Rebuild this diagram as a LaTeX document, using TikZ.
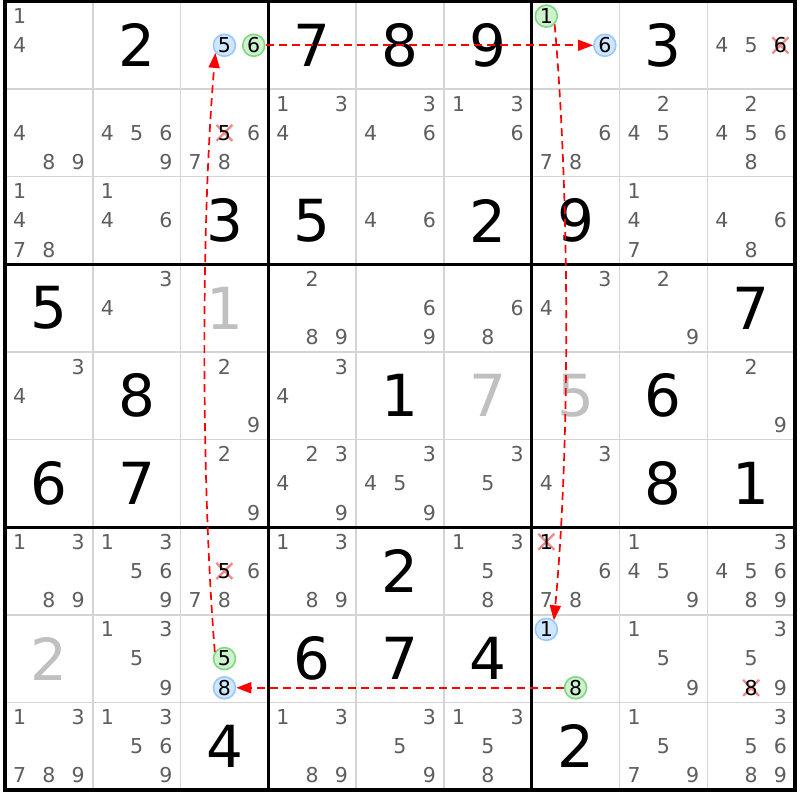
\documentclass[tikz,border=0pt]{standalone}
\usepackage{fontspec}
\setmainfont{DejaVu Sans}
\usetikzlibrary{arrows.meta}
\definecolor{candgray}{HTML}{5E5E5E}
\definecolor{ghostgray}{HTML}{C0C0C0}
\definecolor{thingray}{HTML}{D4D4D4}
\definecolor{bluefill}{HTML}{CFE6FF}
\definecolor{bluedraw}{HTML}{99C8FF}
\definecolor{greenfill}{HTML}{CDF2CD}
\definecolor{greendraw}{HTML}{80D880}
\definecolor{xred}{HTML}{F08A8A}
\def\gx{5}
\def\gy{1.5}
\def\cw{87.78}
\def\ch{87.61}
\newcommand\setpos[3]{%
  \pgfmathsetmacro\px{\gx+(#2-1)*\cw+(2*mod(#3-1,3)+1)*\cw/6}%
  \pgfmathsetmacro\py{\gy+(#1-1)*\ch+(2*int((#3-1)/3)+1)*\ch/6}}
\newcommand\setcen[2]{%
  \pgfmathsetmacro\px{\gx+(#2-0.5)*\cw}%
  \pgfmathsetmacro\py{\gy+(#1-0.5)*\ch}}
\newcommand\cands[3]{\foreach \d in {#3}{\setpos{#1}{#2}{\d}\node[cand] (c#1#2\d) at (\px,\py) {\d};}}
\newcommand\crossed[3]{\setpos{#1}{#2}{#3}%
  \coordinate (p#1#2#3) at (\px,\py);
  \draw[xmark] (p#1#2#3) +(-8,-8) -- +(8,8) (p#1#2#3) +(-8,8) -- +(8,-8);
  \node[cand,text=black] (x#1#2#3) at (p#1#2#3) {#3};}
\newcommand\hl[5]{\setpos{#2}{#3}{#4}\node[#1] (#5) at (\px,\py) {#4};}
\tikzset{
  cand/.style={inner sep=0pt, font=\fontsize{20.5}{20.5}\selectfont, text=candgray},
  big/.style={inner sep=0pt, font=\fontsize{58}{58}\selectfont, text=black},
  ghost/.style={big, text=ghostgray},
  hlb/.style={circle, inner sep=0pt, minimum size=22pt, fill=bluefill, draw=bluedraw, line width=1.6pt, font=\fontsize{20.5}{20.5}\selectfont, text=black},
  hlg/.style={hlb, fill=greenfill, draw=greendraw},
  xmark/.style={draw=xred, line width=2.3pt},
  thin/.style={draw=thingray, line width=1.5pt},
  thick/.style={draw=black, line width=3pt},
  chain/.style={draw=red, line width=1.7pt, dash pattern=on 8pt off 5pt, -{Triangle[length=15pt,width=11pt]}, fill=none}
}
\begin{document}
\begin{tikzpicture}[x=1pt,y=-1pt]
\useasboundingbox (0,0) rectangle (800,800);
\fill[white] (0,0) rectangle (800,800);
% thin grid lines
\foreach \i in {1,2,4,5,7,8}{
  \draw[thin] ({\gx+\i*\cw},\gy) -- ({\gx+\i*\cw},{\gy+9*\ch});
  \draw[thin] (\gx,{\gy+\i*\ch}) -- ({\gx+9*\cw},{\gy+\i*\ch});
}
% thick box lines
\foreach \i in {3,6}{
  \draw[thick] ({\gx+\i*\cw},\gy) -- ({\gx+\i*\cw},{\gy+9*\ch});
  \draw[thick] (\gx,{\gy+\i*\ch}) -- ({\gx+9*\cw},{\gy+\i*\ch});
}
\draw[thick, line width=3.5pt] (\gx,\gy) rectangle ({\gx+9*\cw},{\gy+9*\ch});
% given digits
\foreach \r/\c/\v in {1/2/2,1/4/7,1/5/8,1/6/9,1/8/3,
  3/3/3,3/4/5,3/6/2,3/7/9,
  4/1/5,4/9/7,
  5/2/8,5/5/1,5/8/6,
  6/1/6,6/2/7,6/8/8,6/9/1,
  7/5/2,
  8/4/6,8/5/7,8/6/4,
  9/3/4,9/7/2}{
  \setcen{\r}{\c}\node[big] (g\r\c) at (\px,\py) {\v};
}
\foreach \r/\c/\v in {4/3/1,5/6/7,5/7/5,8/1/2}{
  \setcen{\r}{\c}\node[ghost] (h\r\c) at (\px,\py) {\v};
}
% candidates
\cands{1}{1}{1,4}
\cands{1}{9}{4,5}
\cands{2}{1}{4,8,9}
\cands{2}{2}{4,5,6,9}
\cands{2}{3}{6,7,8}
\cands{2}{4}{1,3,4}
\cands{2}{5}{3,4,6}
\cands{2}{6}{1,3,6}
\cands{2}{7}{6,7,8}
\cands{2}{8}{2,4,5}
\cands{2}{9}{2,4,5,6,8}
\cands{3}{1}{1,4,7,8}
\cands{3}{2}{1,4,6}
\cands{3}{5}{4,6}
\cands{3}{8}{1,4,7}
\cands{3}{9}{4,6,8}
\cands{4}{2}{3,4}
\cands{4}{4}{2,8,9}
\cands{4}{5}{6,9}
\cands{4}{6}{6,8}
\cands{4}{7}{3,4}
\cands{4}{8}{2,9}
\cands{5}{1}{3,4}
\cands{5}{3}{2,9}
\cands{5}{4}{3,4}
\cands{5}{9}{2,9}
\cands{6}{3}{2,9}
\cands{6}{4}{2,3,4,9}
\cands{6}{5}{3,4,5,9}
\cands{6}{6}{3,5}
\cands{6}{7}{3,4}
\cands{7}{1}{1,3,8,9}
\cands{7}{2}{1,3,5,6,9}
\cands{7}{3}{6,7,8}
\cands{7}{4}{1,3,8,9}
\cands{7}{6}{1,3,5,8}
\cands{7}{7}{6,7,8}
\cands{7}{8}{1,4,5,9}
\cands{7}{9}{3,4,5,6,8,9}
\cands{8}{2}{1,3,5,9}
\cands{8}{8}{1,5,9}
\cands{8}{9}{3,5,9}
\cands{9}{1}{1,3,7,8,9}
\cands{9}{2}{1,3,5,6,9}
\cands{9}{4}{1,3,8,9}
\cands{9}{5}{3,5,9}
\cands{9}{6}{1,3,5,8}
\cands{9}{8}{1,5,7,9}
\cands{9}{9}{3,5,6,8,9}
% eliminated candidates
\crossed{1}{9}{6}
\crossed{2}{3}{5}
\crossed{7}{3}{5}
\crossed{7}{7}{1}
\crossed{8}{9}{8}
% highlighted candidates
\hl{hlb}{1}{3}{5}{b13}
\hl{hlg}{1}{3}{6}{g13x}
\hl{hlg}{1}{7}{1}{g17x}
\hl{hlb}{1}{7}{6}{b17}
\hl{hlb}{8}{7}{1}{b87}
\hl{hlg}{8}{7}{8}{g87x}
\hl{hlg}{8}{3}{5}{g83x}
\hl{hlb}{8}{3}{8}{b83}
% chain
\draw[chain] (g13x.east) -- (b17.west);
\draw[chain] (g17x.-45) .. controls (570,200) and (570,450) .. (b87.50);
\draw[chain] (g87x.west) -- (b83.east);
\draw[chain] (g83x.145) .. controls (201,480) and (201,220) .. (b13.-140);
\end{tikzpicture}
\end{document}
